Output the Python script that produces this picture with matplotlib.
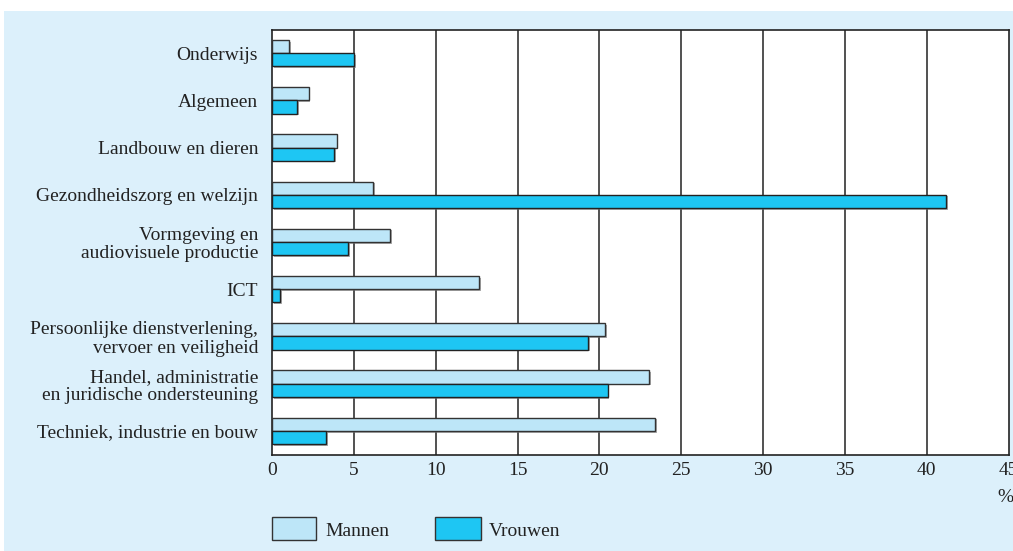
import numpy as np
import matplotlib
matplotlib.use("Agg")
import matplotlib.pyplot as plt
import matplotlib.patheffects as pe
from matplotlib.patches import Rectangle

# data, top to bottom
categories = [
    "Onderwijs",
    "Algemeen",
    "Landbouw en dieren",
    "Gezondheidszorg en welzijn",
    "Vormgeving en\naudiovisuele productie",
    "ICT",
    "Persoonlijke dienstverlening,\nvervoer en veiligheid",
    "Handel, administratie\nen juridische ondersteuning",
    "Techniek, industrie en bouw",
]
mannen = [1.05, 2.25, 3.95, 6.2, 7.2, 12.65, 20.35, 23.05, 23.4]
vrouwen = [5.0, 1.55, 3.8, 41.2, 4.65, 0.5, 19.3, 20.5, 3.3]
xticks = [0, 5, 10, 15, 20, 25, 30, 35, 40, 45]

c_man = "#bde6f8"
c_vrouw = "#1ec6f3"
bg = "#dcf0fb"
fs = 14

plt.rcParams["font.family"] = ["Liberation Serif", "DejaVu Serif"]

fig = plt.figure(figsize=(10.13, 5.51), dpi=100)
fig.patches.append(Rectangle((4 / 1013, 0), 1, 1 - 11 / 551, transform=fig.transFigure,
                             facecolor=bg, edgecolor="none", zorder=-5))

ax = fig.add_axes([272 / 1013, 96 / 551, 736.6 / 1013, 425 / 551])
ax.set_facecolor("white")

y = np.arange(len(categories))
h = 0.28
shadow = [pe.SimplePatchShadow(offset=(1.2, -1.2), shadow_rgbFace="0.45", alpha=0.6), pe.Normal()]
ax.barh(y - h / 2, mannen, height=h, color=c_man, edgecolor="#333333", linewidth=1,
        path_effects=shadow, zorder=3, label="Mannen")
ax.barh(y + h / 2, vrouwen, height=h, color=c_vrouw, edgecolor="#222222", linewidth=1,
        path_effects=shadow, zorder=3, label="Vrouwen")

ax.set_xlim(0, 45)
ax.set_ylim(8.51, -0.49)
ax.set_xticks(xticks)
ax.set_xticklabels([str(v) for v in xticks])
for v in xticks[1:-1]:
    ax.axvline(v, color="#222222", linewidth=1.1, zorder=1)
ax.set_yticks(y)
ax.set_yticklabels(categories, multialignment="right", linespacing=1.1)
ax.tick_params(axis="both", length=0, labelsize=fs, colors="#222222")
ax.tick_params(axis="y", pad=10)
ax.tick_params(axis="x", pad=5)
for s in ax.spines.values():
    s.set_color("#222222")
    s.set_linewidth(1.2)

fig.text(1005 / 1013, 1 - 497 / 551, "%", fontsize=fs, color="#222222",
         ha="center", va="center")

# legend
fig.patches.append(Rectangle((272 / 1013, 1 - 540 / 551), 44 / 1013, 23 / 551,
                             transform=fig.transFigure, facecolor=c_man,
                             edgecolor="#333333", linewidth=1))
fig.text(325 / 1013, 1 - 531 / 551, "Mannen", fontsize=fs, color="#222222",
         ha="left", va="center")
fig.patches.append(Rectangle((435 / 1013, 1 - 540 / 551), 46 / 1013, 23 / 551,
                             transform=fig.transFigure, facecolor=c_vrouw,
                             edgecolor="#333333", linewidth=1))
fig.text(489 / 1013, 1 - 531 / 551, "Vrouwen", fontsize=fs, color="#222222",
         ha="left", va="center")

fig.savefig("out.png", dpi=100)
